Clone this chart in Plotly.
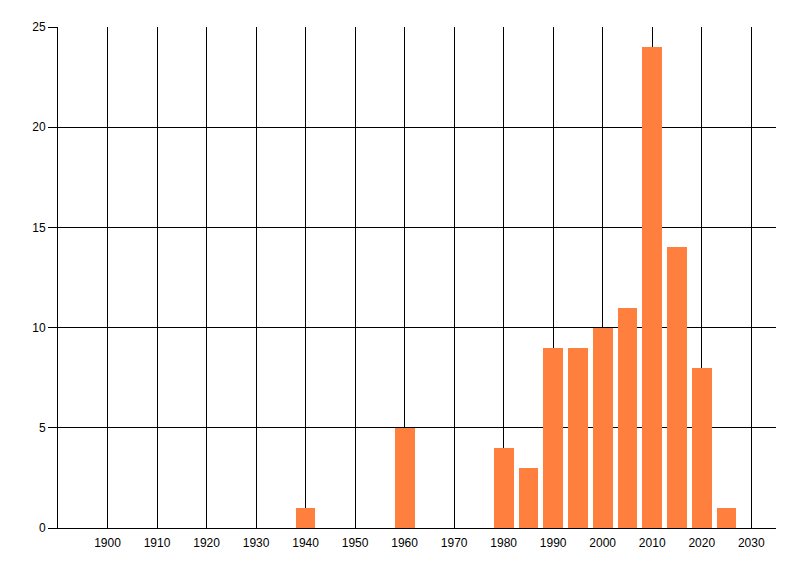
import plotly.graph_objects as go

# datos
anios = [1940, 1960, 1980, 1985, 1990, 1995, 2000, 2005, 2010, 2015, 2020, 2025]
cantidades = [1, 5, 4, 3, 9, 9, 10, 11, 24, 14, 8, 1]
ticks_x = [1900, 1910, 1920, 1930, 1940, 1950, 1960, 1970, 1980, 1990, 2000, 2010, 2020, 2030]
ticks_y = [0, 5, 10, 15, 20, 25]

fig = go.Figure(go.Bar(
    x=anios, y=cantidades,
    width=4,
    marker=dict(color="#FF7F3F", line=dict(width=0)),
))

fig.update_xaxes(
    range=[1890, 2035],
    tickmode="array", tickvals=ticks_x,
    showgrid=True, gridcolor="black", gridwidth=1,
    showline=True, linecolor="black", linewidth=1,
    ticks="", zeroline=False,
    ticklabelstandoff=4,
)
fig.update_yaxes(
    range=[0, 25],
    tickmode="array", tickvals=ticks_y,
    showgrid=True, gridcolor="black", gridwidth=1,
    showline=True, linecolor="black", linewidth=1,
    ticks="outside", ticklen=9, tickcolor="black", tickwidth=1,
    zeroline=False,
)

# la pagina html deja ~8px de margen, por eso se corrigen los margenes
fig.update_layout(
    width=800, height=576,
    margin=dict(l=50, r=32, t=19, b=56),
    plot_bgcolor="white", paper_bgcolor="white",
    font=dict(family="Liberation Sans", size=12, color="black"),
    showlegend=False,
    bargap=0,
)

fig.write_html("out.html")
